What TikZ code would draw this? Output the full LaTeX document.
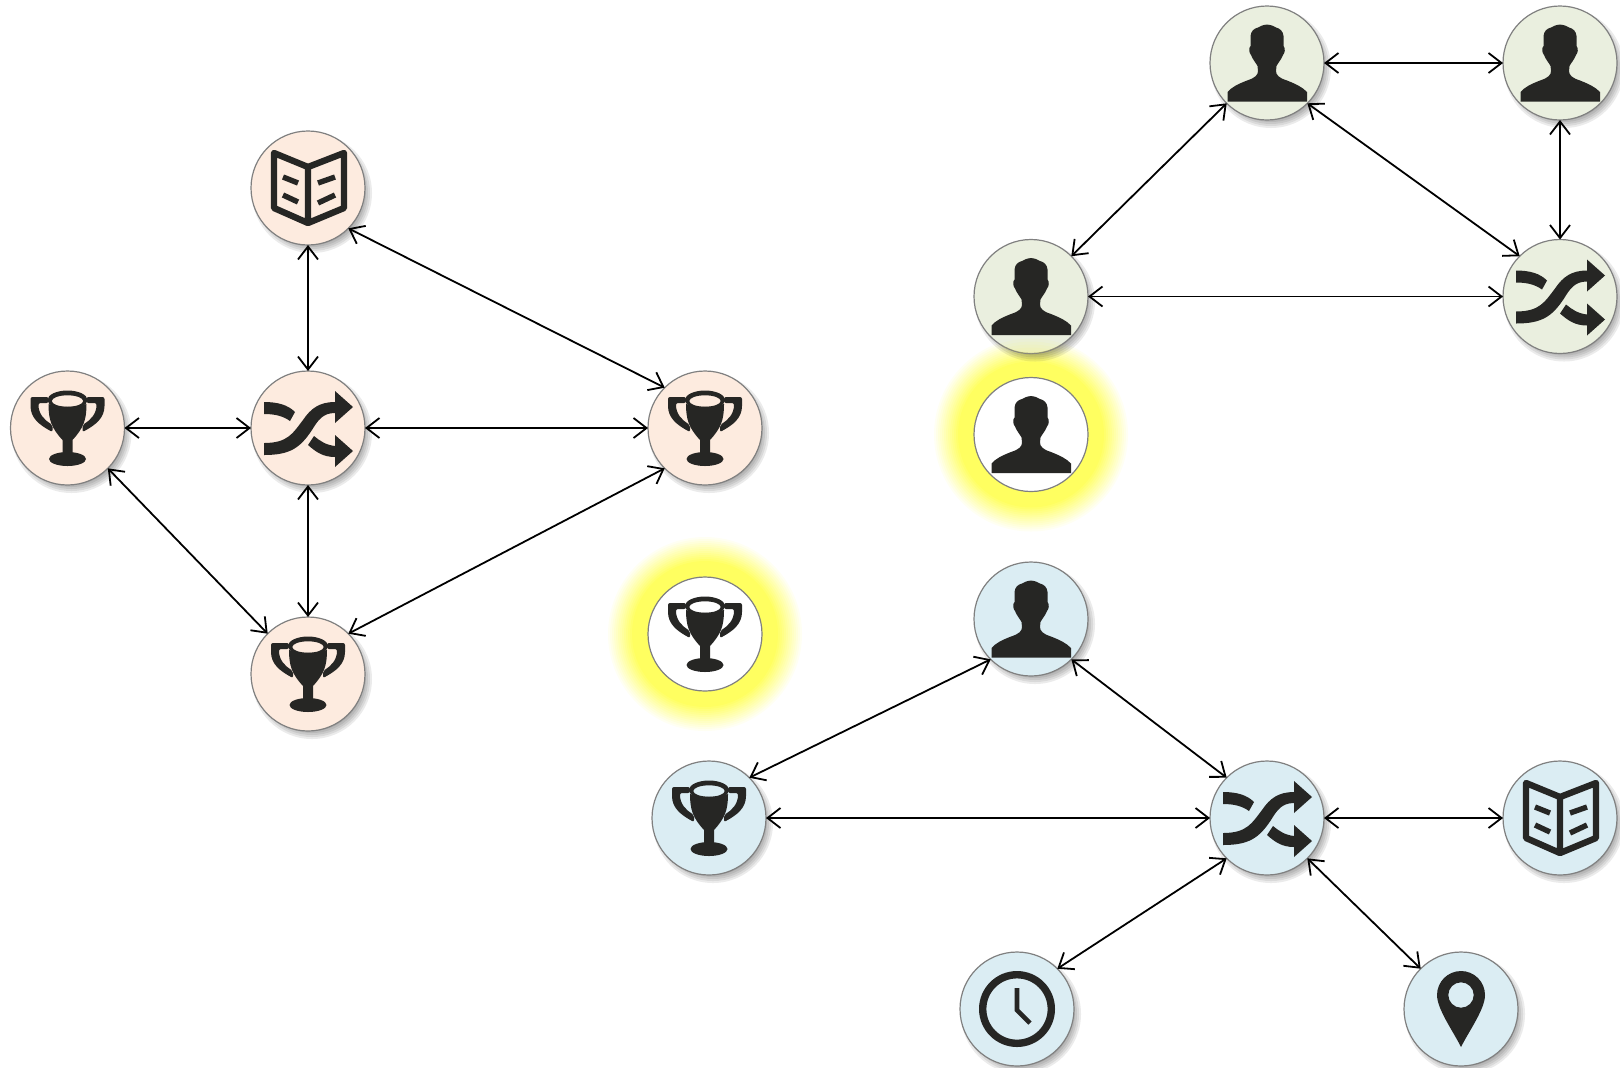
\documentclass[tikz,border=0pt]{standalone}
\usetikzlibrary{positioning}
\usetikzlibrary{backgrounds}
\usetikzlibrary{arrows.meta}

\definecolor{orangefill}{HTML}{FDEBDF}
\definecolor{greenfill}{HTML}{EAEFDF}
\definecolor{bluefill}{HTML}{DBEDF3}
\definecolor{iconcolor}{HTML}{262624}
\definecolor{glowcolor}{HTML}{FFFF60}

\tikzset{
	iconnode/.style={draw=black!50, line width=0.6pt, circle, minimum size=57pt, inner sep=0pt, outer sep=0pt},
	orangenode/.style={iconnode, fill=orangefill},
	greennode/.style={iconnode, fill=greenfill},
	bluenode/.style={iconnode, fill=bluefill},
	plainnode/.style={iconnode, fill=white},
	link/.style={draw, line width=0.9pt, {Straight Barb[length=6.5pt,width=10pt]}-{Straight Barb[length=6.5pt,width=10pt]}},
	shuffleicon/.pic={
		\fill[iconcolor] (-44,15) .. controls (-20,15) and (-15,5) .. (-5,-8) .. controls (3,-20) and (12,-26) .. (27,-26) -- (27,-37) -- (45,-21) -- (27,-5) -- (27,-15) .. controls (15,-15) and (10,-8) .. (4,2) .. controls (-8,20) and (-18,27) .. (-44,27) -- cycle;
		\fill[iconcolor] (-44,-26) .. controls (-30,-26) and (-20,-23) .. (-13,-16) -- (-18,-7) .. controls (-25,-12) and (-33,-14) .. (-44,-14) -- cycle;
		\fill[iconcolor] (6,8) .. controls (12,13) and (18,17) .. (27,18) -- (27,7) -- (45,23) -- (27,39) -- (27,29) .. controls (15,29) and (8,24) .. (0,17) -- cycle;
	},
	bookicon/.pic={
		\draw[iconcolor, line width=3.2pt, line join=round] (-34,-35) -- (0,-21) -- (36,-35) -- (36,20) -- (0,35) -- (-34,20) -- cycle (0,-21) -- (0,35);
		\draw[iconcolor, line width=2.7pt] (-25,-11) -- (-10,-5) (-25,7) -- (-10,14) (10,-5) -- (27,-11) (10,15) -- (27,7);
	},
	trophyicon/.pic={
		\fill[iconcolor, even odd rule] (0,-28) ellipse [x radius=20, y radius=9.5] (0,-27) ellipse [x radius=15.7, y radius=5.7];
		\fill[iconcolor] (-19,-24) .. controls (-19,-8) and (-16,0) .. (-5,12) -- (-5,26) -- (5,26) -- (5,12) .. controls (16,0) and (19,-8) .. (19,-24) .. controls (8,-20) and (-8,-20) .. (-19,-24) -- cycle;
		\fill[iconcolor] (0,31) ellipse [x radius=18.5, y radius=7];
		\fill[iconcolor, rounded corners=1pt] (-19,-31) -- (-37,-31) -- (-37,-24) .. controls (-37,-10) and (-28,-3) .. (-15,4) -- (-15,-3) .. controls (-23,-8) and (-29,-14) .. (-29,-25) -- (-19,-25) -- cycle;
		\fill[iconcolor, rounded corners=1pt] (19,-31) -- (37,-31) -- (37,-24) .. controls (37,-10) and (28,-3) .. (15,4) -- (15,-3) .. controls (23,-8) and (29,-14) .. (29,-25) -- (19,-25) -- cycle;
	},
	personicon/.pic={
		\fill[iconcolor] (0,-38.5) .. controls (-4,-38) and (-7,-37) .. (-9,-35.5) .. controls (-13,-34.5) and (-16,-32) .. (-16.5,-27) -- (-16.5,-17) .. controls (-18.5,-15) and (-18,-10) .. (-16,-8) .. controls (-14,-3) and (-11,0) .. (-9.5,3) -- (-9,8) .. controls (-9,12) and (-12,15) .. (-20,17.5) .. controls (-30,21.5) and (-35,24) .. (-39.5,29) -- (-39.5,38.5) -- (40,38.5) -- (40,29) .. controls (35,24) and (30,21.5) .. (20,17.5) .. controls (12,15) and (9,12) .. (9,8) -- (9.5,3) .. controls (11,0) and (14,-3) .. (16,-8) .. controls (18,-10) and (18.5,-15) .. (16.5,-17) -- (16.5,-27) .. controls (16,-32) and (13,-34.5) .. (9,-35.5) .. controls (7,-37) and (4,-38) .. (0,-38.5) -- cycle;
	},
	clockicon/.pic={
		\draw[iconcolor, line width=3.7pt] (0,0) circle [radius=34.3];
		\draw[iconcolor, line width=2.3pt] (0,-21) -- (0,1) -- (13,14);
	},
	pinicon/.pic={
		\fill[iconcolor, even odd rule] (0,38) .. controls (-8,22) and (-24,0) .. (-24,-14) .. controls (-24,-27.25) and (-13.25,-38) .. (0,-38) .. controls (13.25,-38) and (24,-27.25) .. (24,-14) .. controls (24,0) and (8,22) .. (0,38) -- cycle (0,-14) circle [radius=12.7];
	},
}

\begin{document}
\begin{tikzpicture}[x=0.5pt, y=-0.5pt, on grid]
	\useasboundingbox (0,0) rectangle (1620,1067);
	% orange group
	\node[orangenode] (shuffleo) at (308,428) {};
	\node[orangenode, above=120pt of shuffleo] (booko) {};
	\node[orangenode, left=120.25pt of shuffleo] (trophyol) {};
	\node[orangenode, right=198.5pt of shuffleo] (trophyor) {};
	\node[orangenode, below=123pt of shuffleo] (trophyob) {};
	\node[plainnode, below=103pt of trophyor] (trophyy) {};
	% green group
	\node[greennode] (personga) at (1267,63) {};
	\node[greennode, right=146.5pt of personga] (persongb) {};
	\node[greennode, below left=116.75pt and 118pt of personga] (persongc) {};
	\node[greennode, below=116.75pt of persongb] (shufflegr) {};
	\node[plainnode, below=69pt of persongc] (persony) {};
	% blue group
	\node[bluenode] (shufflebl) at (1267,818) {};
	\node[bluenode, right=146.5pt of shufflebl] (bookbl) {};
	\node[bluenode, left=279pt of shufflebl] (trophybl) {};
	\node[bluenode, above left=99.5pt and 118pt of shufflebl] (personbl) {};
	\node[bluenode, below left=95.5pt and 125pt of shufflebl] (clockbl) {};
	\node[bluenode, below right=95.5pt and 97pt of shufflebl] (pinbl) {};
	% faint tint where the glow reaches the green node
	\begin{scope}
		\clip (persongc) circle [radius=57];
		\foreach \k in {1,...,6}
			\fill[glowcolor, opacity=0.07, shift={(persony)}] (0,0) circle [radius={99-3*\k}];
	\end{scope}
	% icons
	\foreach \n in {shuffleo,shufflegr,shufflebl}
		\pic at (\n) {shuffleicon};
	\foreach \n in {booko,bookbl}
		\pic at (\n) {bookicon};
	\foreach \n in {trophyol,trophyor,trophyob,trophyy,trophybl}
		\pic at (\n) {trophyicon};
	\foreach \n in {personga,persongb,persongc,persony,personbl}
		\pic at (\n) {personicon};
	\pic at (clockbl) {clockicon};
	\pic at (pinbl) {pinicon};
	% connectors
	\path[link] (booko) -- (shuffleo);
	\path[link] (shuffleo) -- (trophyob);
	\path[link] (trophyol) -- (shuffleo);
	\path[link] (shuffleo) -- (trophyor);
	\path[link] (booko.south east) -- (trophyor.north west);
	\path[link] (trophyol.south east) -- (trophyob.north west);
	\path[link] (trophyob.north east) -- (trophyor.south west);
	\path[link] (personga) -- (persongb);
	\path[link] (persongb) -- (shufflegr);
	\path[link] (persongc) -- (shufflegr);
	\path[link] (persongc.north east) -- (personga.south west);
	\path[link] (personga.south east) -- (shufflegr.north west);
	\path[link] (trophybl) -- (shufflebl);
	\path[link] (shufflebl) -- (bookbl);
	\path[link] (personbl.south west) -- (trophybl.north east);
	\path[link] (personbl.south east) -- (shufflebl.north west);
	\path[link] (shufflebl.south west) -- (clockbl.north east);
	\path[link] (shufflebl.south east) -- (pinbl.north west);
	\begin{scope}[on background layer]
		\foreach \g in {persony,trophyy}
			\foreach \glowrad/\glowalpha in {97/0.08,95/0.08,93/0.09,91/0.1,89/0.11,87/0.13,85/0.14,83/0.17,81/0.2,79/0.25,77/0.33,75/0.5,73/1}
				\fill[glowcolor, fill opacity=\glowalpha, shift={(\g)}] (0,0) circle [radius=\glowrad];
		\foreach \n in {shuffleo,booko,trophyol,trophyor,trophyob,personga,persongb,persongc,shufflegr,shufflebl,bookbl,trophybl,personbl,clockbl,pinbl}
			\foreach \r in {48,50,...,60}
				\fill[black, opacity=0.08, shift={(\n)}] (4,5) circle [radius=\r];
	\end{scope}
\end{tikzpicture}
\end{document}
